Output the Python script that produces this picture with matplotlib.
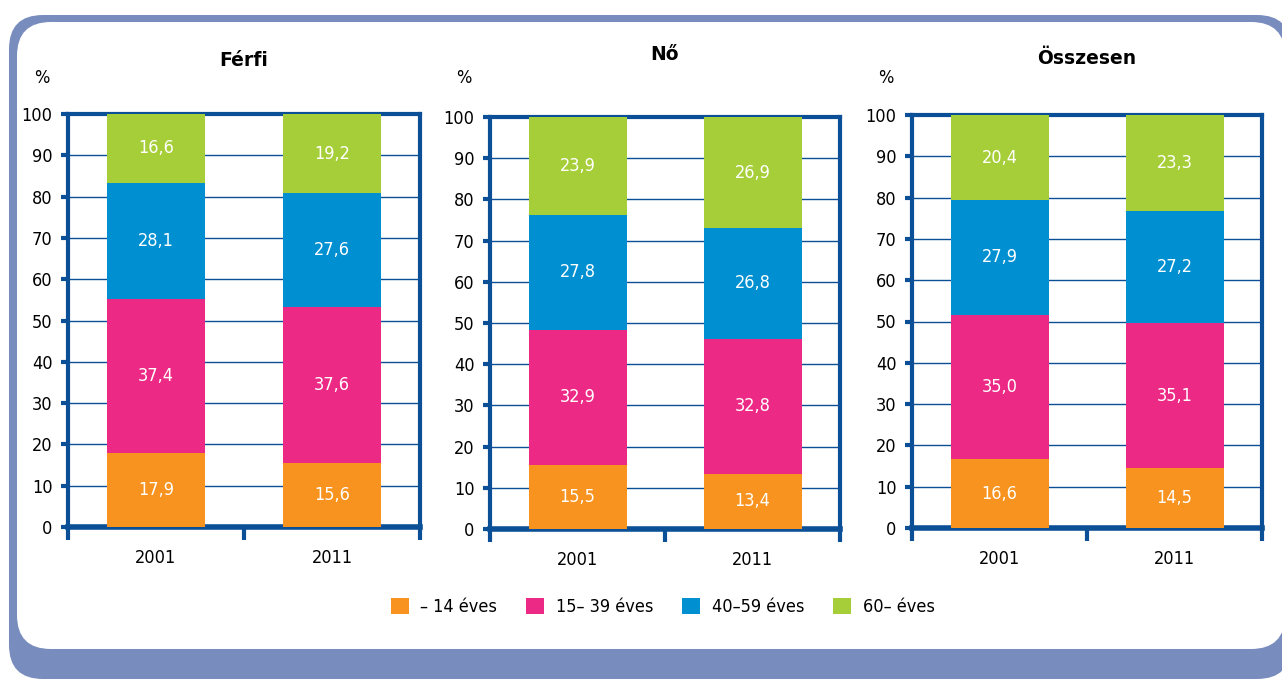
import matplotlib
matplotlib.use("Agg")
import matplotlib.pyplot as plt
from matplotlib.patches import FancyBboxPatch, Patch
from matplotlib.font_manager import FontProperties
import numpy as np

# ---- data ----
panels = ["Férfi", "Nő", "Összesen"]
years = ["2001", "2011"]
age_groups = ["– 14 éves", "15– 39 éves", "40–59 éves", "60– éves"]
ferfi = [[17.9, 15.6], [37.4, 37.6], [28.1, 27.6], [16.6, 19.2]]
no = [[15.5, 13.4], [32.9, 32.8], [27.8, 26.8], [23.9, 26.9]]
osszesen = [[16.6, 14.5], [35.0, 35.1], [27.9, 27.2], [20.4, 23.3]]
panel_data = [ferfi, no, osszesen]
yticks = [0, 10, 20, 30, 40, 50, 60, 70, 80, 90, 100]

colors = ["#F7931E", "#EC2A85", "#008FD0", "#A6CE39"]
navy = "#0B4F96"
frame = "#788CBE"


def nfont(size):
    return FontProperties(family="DejaVu Sans", stretch="condensed", size=size)


W, H = 1282, 679
fig = plt.figure(figsize=(W / 100, H / 100), dpi=100)
fig.patch.set_facecolor("white")

# background frame
bg = fig.add_axes([0, 0, 1, 1], zorder=-10)
bg.set_xlim(0, W)
bg.set_ylim(H, 0)
bg.axis("off")
bg.add_patch(FancyBboxPatch((9, 15), 1282, 664, boxstyle="round,pad=0,rounding_size=34",
                            facecolor=frame, edgecolor="none"))
bg.add_patch(FancyBboxPatch((17, 22), 1268, 627, boxstyle="round,pad=0,rounding_size=34",
                            facecolor="white", edgecolor="none"))

# axes positions in pixels: left, right, top, bottom
boxes = [(68, 420, 114, 527), (490, 840, 117, 529), (912, 1262, 115, 528)]
title_y = [60, 54, 58]

for data, name, (l, r, t, b), ty in zip(panel_data, panels, boxes, title_y):
    ax = fig.add_axes([l / W, 1 - b / H, (r - l) / W, (b - t) / H])
    x = np.arange(len(years))
    bottom = np.zeros(len(years))
    for vals, c in zip(data, colors):
        vals = np.array(vals)
        ax.bar(x, vals, width=0.56, bottom=bottom, color=c, zorder=3)
        for xi, v, bt in zip(x, vals, bottom):
            ax.text(xi, bt + v / 2, f"{v:.1f}".replace(".", ","), ha="center", va="center",
                    color="white", fontproperties=nfont(13), zorder=4)
        bottom += vals
    ax.set_xlim(-0.5, 1.5)
    ax.set_ylim(0, 100)
    ax.set_yticks(yticks)
    ax.set_yticklabels([str(v) for v in yticks], fontproperties=nfont(13))
    ax.set_xticks(x)
    ax.set_xticklabels(years, fontproperties=nfont(13))
    ax.set_xticks([-0.5, 0.5, 1.5], minor=True)
    ax.tick_params(axis="x", which="major", length=0, pad=16)
    ax.tick_params(axis="x", which="minor", length=9, width=3, color=navy, direction="out")
    ax.tick_params(axis="y", which="major", length=5, width=3, color=navy, direction="out", pad=6)
    ax.yaxis.grid(True, color=navy, linewidth=1.0, zorder=1)
    ax.set_axisbelow(True)
    for s in ax.spines.values():
        s.set_color(navy)
        s.set_linewidth(3)
    ax.spines["bottom"].set_linewidth(4)
    fig.text(((l + r) / 2) / W, 1 - ty / H, name, ha="center", va="center",
             fontsize=13.5, fontweight="bold", family="DejaVu Sans")
    fig.text((l - 26) / W, 1 - 78 / H, "%", ha="center", va="center",
             fontproperties=nfont(13))

handles = [Patch(facecolor=c, edgecolor="none") for c in colors]
fig.legend(handles, age_groups, loc="center", bbox_to_anchor=(0.517, 1 - 607 / H), ncol=4,
           frameon=False, handlelength=1.0, handleheight=1.05, columnspacing=1.6,
           handletextpad=0.65, prop=nfont(13))

fig.savefig("out.png", dpi=100)
